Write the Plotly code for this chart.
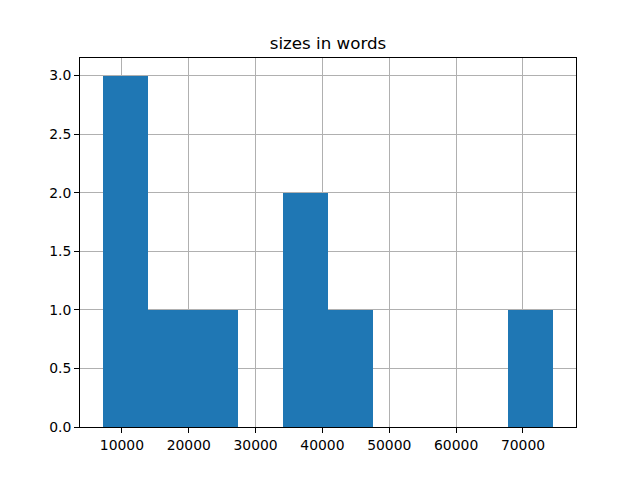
import plotly.graph_objects as go

# Histogram of sizes in words (10 bins)
bin_edges = [7105, 13850, 20596, 27341, 34087, 40832, 47578, 54323, 61069, 67814, 74560]
counts = [3, 1, 1, 0, 2, 1, 0, 0, 0, 1]
x_ticks = [10000, 20000, 30000, 40000, 50000, 60000, 70000]
y_ticks = [0.0, 0.5, 1.0, 1.5, 2.0, 2.5, 3.0]
title_text = "sizes in words"

centers = [(bin_edges[i] + bin_edges[i + 1]) / 2 for i in range(len(counts))]
widths = [bin_edges[i + 1] - bin_edges[i] for i in range(len(counts))]

span = bin_edges[-1] - bin_edges[0]
xr = [bin_edges[0] - 0.05 * span, bin_edges[-1] + 0.05 * span]
yr = [0, max(counts) * 1.05]

fig = go.Figure(go.Bar(
    x=centers, y=counts, width=widths,
    marker=dict(color="#1f77b4", line=dict(width=0)),
    hoverinfo="x+y",
))

axis_common = dict(
    showgrid=True, gridcolor="#b0b0b0", gridwidth=1.1,
    showline=True, linecolor="black", linewidth=1.1, mirror=True,
    ticks="outside", ticklen=4.9, tickwidth=1.1, tickcolor="black",
    zeroline=False, layer="above traces",
    tickfont=dict(family="DejaVu Sans", size=13.9, color="black"),
)

fig.update_layout(
    width=640, height=480,
    margin=dict(l=80, r=64, t=58, b=53, pad=0),
    paper_bgcolor="white", plot_bgcolor="white",
    showlegend=False,
    title=dict(text=title_text, x=0.5, xref="paper", xanchor="center",
               y=(480 - 49) / 480, yref="container", yanchor="bottom",
               font=dict(family="DejaVu Sans", size=16.7, color="black")),
    xaxis=dict(range=xr, tickvals=x_ticks, ticktext=[str(v) for v in x_ticks], **axis_common),
    yaxis=dict(range=yr, tickvals=y_ticks, ticktext=[f"{v:.1f}" for v in y_ticks], **axis_common),
    bargap=0,
)

fig.write_html("out.html", config={"displayModeBar": False},
               post_script="document.body.style.margin='0px';")
